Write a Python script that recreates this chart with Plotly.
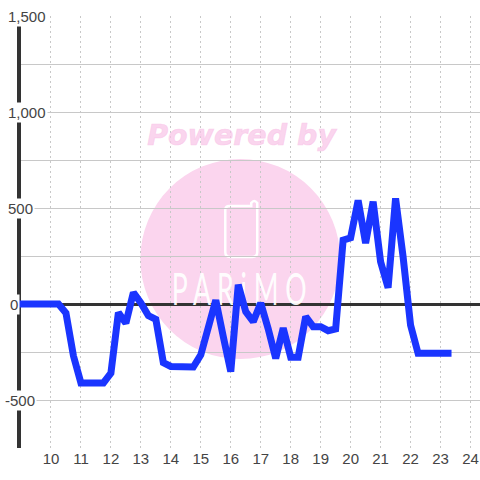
import plotly.graph_objects as go

hours = [9 + i * 0.25 for i in range(58)]
values = [0, 0, 0, 0, 0, 0, -47, -270, -411, -411, -411, -411, -360, -45, -100, 60, 5, -60, -80,
          -305, -325, -325, -325, -328, -265, -115, 20, -170, -352, 100, -40, -92, 5, -130, -283,
          -126, -277, -277, -66, -118, -118, -139, -130, 333, 345, 540, 317, 533, 220, 85, 550,
          246, -110, -257, -257, -257, -257, -257]
hours = hours[:len(values)]
x_ticks = list(range(10, 25))
y_grid = list(range(-750, 1501, 250))
y_labels = {1500: "1,500", 1000: "1,000", 500: "500", 0: "0", -500: "-500"}
label_shift = {1500: -15, 1000: -15, 500: -15, 0: -13, -500: -18}

L, R, T, B = 20.5, 480, 16, 448
px = lambda v: (v - L) / (R - L)
py = lambda v: (B - v) / (B - T)
PINK = "#fbd5ee"
TXT = "#444444"

fig = go.Figure()
fig.add_trace(go.Scatter(x=[16.36], y=[864], mode="text", text=["<b><i>Powered by</i></b>"],
                         textfont=dict(family="DejaVu Sans", size=28.5, color="rgba(249,195,231,0.7)"),
                         hoverinfo="skip", showlegend=False))
fig.add_trace(go.Scatter(x=[16.28], y=[52], mode="text", text=["P A R i M O"],
                         textfont=dict(family="Lato", size=44, weight=400, color="rgba(255,255,255,0.95)"),
                         hoverinfo="skip", showlegend=False))
fig.add_trace(go.Scatter(x=hours, y=values, mode="lines", line=dict(color="#1a35ff", width=7),
                         hoverinfo="skip", showlegend=False))

phone = (f"M {px(229)} {py(206)} L {px(251)} {py(206)} L {px(251)} {py(203)} Q {px(254)} {py(199)} {px(257)} {py(203)} "
         f"L {px(257)} {py(252)} Q {px(257)} {py(257)} {px(252)} {py(257)} L {px(230)} {py(257)} "
         f"Q {px(225)} {py(257)} {px(225)} {py(252)} L {px(225)} {py(210)} Q {px(225)} {py(206)} {px(229)} {py(206)} Z")

fig.update_layout(
    width=480, height=480, margin=dict(l=20.5, r=0, t=16, b=32),
    paper_bgcolor="white", plot_bgcolor="rgba(0,0,0,0)",
    font=dict(family="Liberation Sans", size=15, color=TXT),
    showlegend=False,
    xaxis=dict(range=[9, 24.317], tickmode="array", tickvals=x_ticks, ticktext=[str(t) for t in x_ticks],
               showgrid=True, gridcolor="#c8c8c8", griddash="2px,3px", gridwidth=1,
               zeroline=False, showline=False, ticks="", tickfont=dict(size=15, color=TXT)),
    yaxis=dict(range=[-750, 1500], tickmode="array", tickvals=y_grid, showticklabels=False,
               showgrid=True, gridcolor="#c8c8c8", gridwidth=1,
               zeroline=True, zerolinecolor="#333333", zerolinewidth=3,
               showline=True, linecolor="#333333", linewidth=4, ticks="", layer="below traces"),
    shapes=[
        dict(type="circle", xref="paper", yref="paper", x0=px(140), x1=px(340), y0=py(359), y1=py(159),
             fillcolor=PINK, line_width=0, layer="below"),
        dict(type="path", xref="paper", yref="paper", path=phone, line=dict(color="white", width=2.5),
             fillcolor="rgba(0,0,0,0)", layer="below"),
    ],
)
for val, lab in y_labels.items():
    fig.add_annotation(x=0, xref="paper", xshift=label_shift[val], xanchor="left", y=val, yref="y", yanchor="middle",
                       text=lab, showarrow=False, bgcolor="white", font=dict(size=15, color=TXT),
                       borderpad=1)

post = """
document.body.style.margin='0';
document.querySelectorAll('.js-line').forEach(function(p){
  p.style.strokeLinecap='square'; p.style.strokeLinejoin='miter'; p.style.strokeMiterlimit='2';
});
document.querySelectorAll('.cartesianlayer [clip-path]').forEach(function(g){ g.removeAttribute('clip-path'); });
document.querySelectorAll('.textpoint text').forEach(function(t){
  if(t.textContent.indexOf('P A R')===0){ t.setAttribute('textLength','135'); t.setAttribute('lengthAdjust','spacingAndGlyphs'); }
  if(t.textContent.indexOf('Powered')===0){ t.style.stroke='rgba(249,195,231,0.7)'; t.style.strokeWidth='0.7px'; }
});
"""
fig.write_html("out.html", post_script=post, config={"displayModeBar": False})
